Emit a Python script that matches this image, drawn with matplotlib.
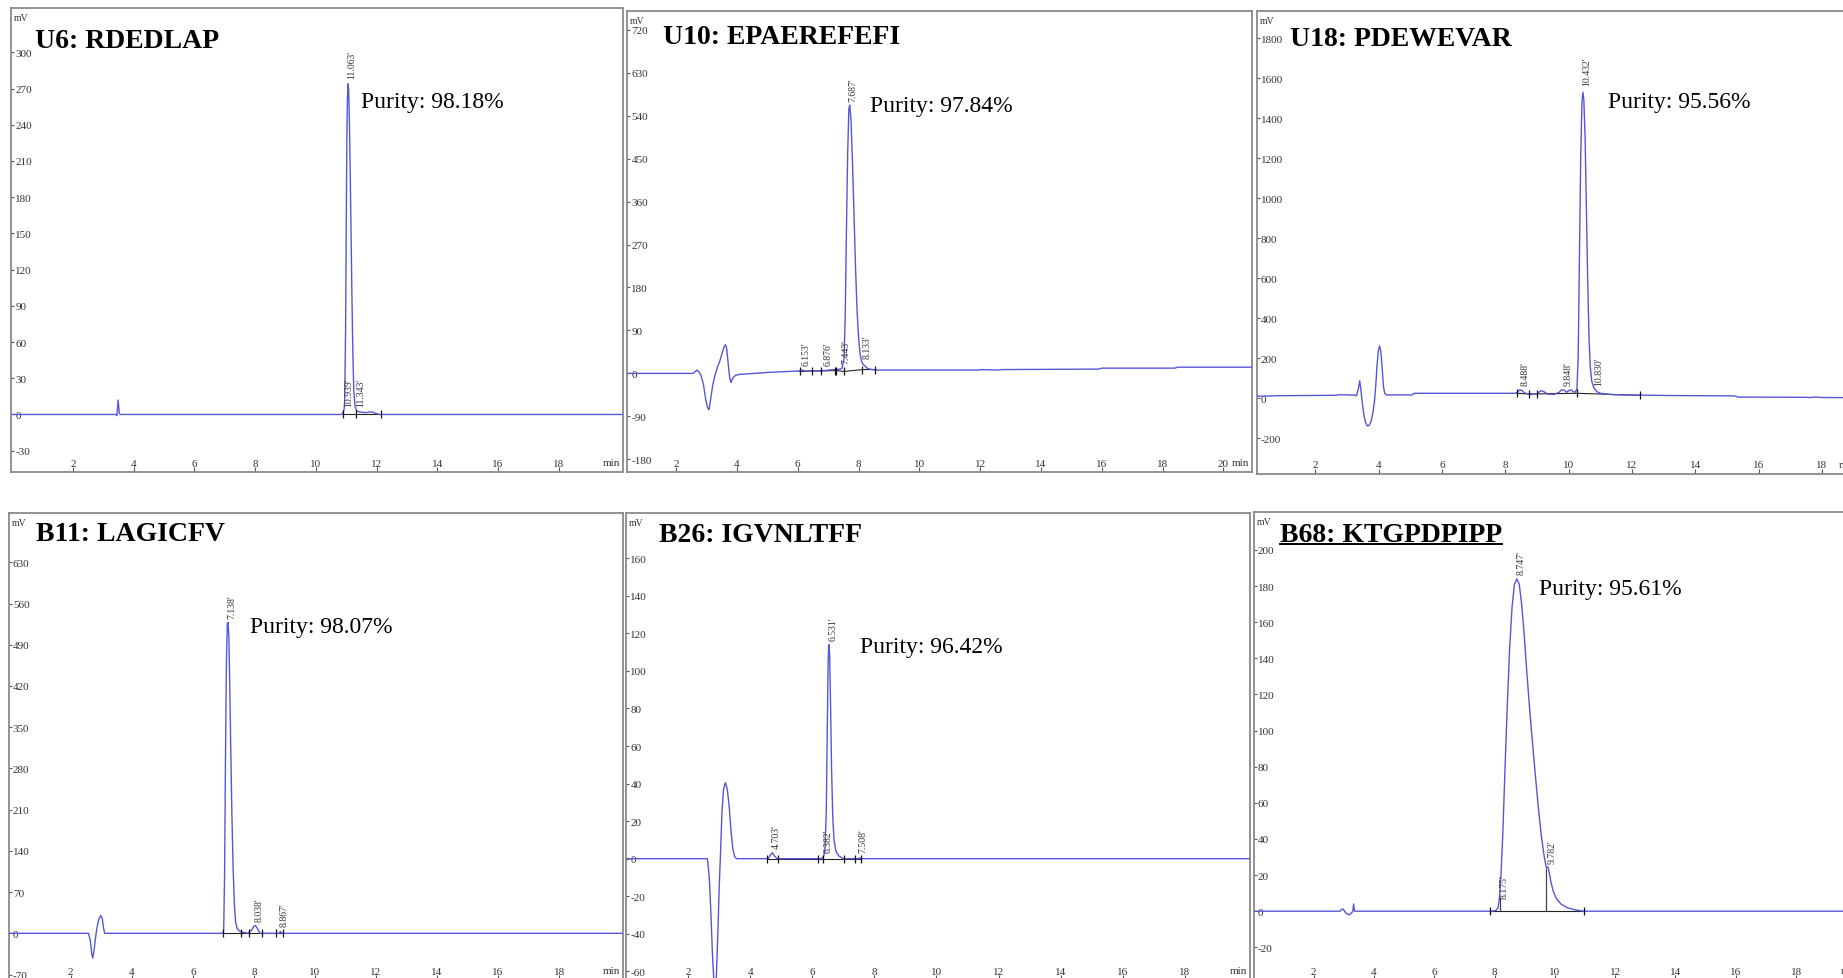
import matplotlib
matplotlib.use("Agg")
import matplotlib.pyplot as plt
from matplotlib.lines import Line2D

plt.rcParams['font.family'] = ['Liberation Serif', 'DejaVu Serif']
plt.rcParams['axes.unicode_minus'] = False

# ---------------- data ----------------
# U6: RDEDLAP
u6_t = [0.0, 3.42, 3.45, 3.49, 3.53, 3.56, 10.86, 10.90, 10.93, 10.95, 10.98, 11.00, 11.02,
        11.04, 11.06, 11.08, 11.10, 11.13, 11.16, 11.19, 11.22, 11.25, 11.29, 11.34, 11.45,
        11.65, 11.75, 11.85, 11.95, 12.10, 20.12]
u6_mv = [0, 0, -1, 12, 1, 0, 0, 2, 4, 12, 70, 150, 225, 262, 274, 270, 250, 205, 150, 95,
         50, 20, 7, 3, 2, 1.5, 2, 2.2, 1, 0, 0]
u6_peaks = ["10.939", "11.063", "11.343"]
u6_peak_y = [6, 278, 6]
u6_events = [10.90, 11.31, 12.15]
u6_event_y = [0, 0, 0]
u6_yticks = [-30, 0, 30, 60, 90, 120, 150, 180, 210, 240, 270, 300]

# U10: EPAEREFEFI
u10_t = [0.39, 2.55, 2.62, 2.68, 2.75, 2.82, 2.90, 2.97, 3.03, 3.08, 3.13, 3.20, 3.27, 3.35,
         3.43, 3.50, 3.57, 3.62, 3.66, 3.71, 3.76, 3.80, 3.86, 3.95, 4.10, 5.00, 6.05, 6.15,
         6.25, 6.90, 7.00, 7.30, 7.45, 7.52, 7.56, 7.60, 7.64, 7.68, 7.71, 7.75, 7.80, 7.85,
         7.90, 7.95, 8.00, 8.05, 8.10, 8.16, 8.22, 8.30, 8.45, 8.60, 10.0, 11.9, 12.05, 12.6,
         12.7, 15.9, 16.0, 18.4, 18.5, 20.94]
u10_mv = [0, 0, 3, 7, 3, -5, -25, -55, -72, -76, -55, -25, -5, 12, 25, 40, 55, 60, 52, 20,
          -10, -19, -10, -4, -2, 2, 5, 7, 5, 6, 7, 8, 10, 30, 120, 300, 460, 555, 562, 530,
          440, 330, 220, 130, 75, 40, 25, 18, 15, 10, 8, 7, 7, 7, 8, 7, 8, 9, 11, 11, 13, 13]
u10_peaks = ["6.153", "6.876", "7.443", "7.687", "8.133"]
u10_peak_y = [16, 16, 20, 568, 30]
u10_events = [6.06, 6.46, 6.76, 7.21, 7.27, 7.51, 8.12, 8.55]
u10_event_y = [4, 5, 5, 6, 6, 4, 8, 8]
u10_yticks = [-180, -90, 0, 90, 180, 270, 360, 450, 540, 630, 720]

# U18: PDEWEVAR
u18_t = [0.15, 0.8, 2.65, 2.75, 3.25, 3.30, 3.36, 3.40, 3.44, 3.48, 3.53, 3.58, 3.64, 3.70,
         3.76, 3.82, 3.87, 3.91, 3.95, 3.99, 4.03, 4.07, 4.11, 4.15, 4.19, 4.25, 5.05, 5.12,
         8.30, 8.38, 8.45, 8.52, 8.60, 8.70, 8.85, 9.00, 9.12, 9.22, 9.35, 9.55, 9.70, 9.78,
         9.86, 9.93, 10.00, 10.08, 10.14, 10.20, 10.26, 10.30, 10.34, 10.38, 10.42, 10.45,
         10.48, 10.52, 10.56, 10.60, 10.64, 10.68, 10.73, 10.80, 10.90, 11.0, 11.4, 13.1,
         15.25, 15.35, 17.5, 17.6, 17.8, 18.0, 19.2]
u18_mv = [10, 13, 15, 18, 16, 13, 50, 88, 40, -20, -80, -120, -138, -135, -115, -70, -10, 70,
          170, 240, 262, 230, 150, 60, 25, 17, 17, 25, 25, 30, 42, 40, 28, 22, 20, 22, 38, 33,
          20, 20, 30, 43, 40, 30, 38, 42, 33, 30, 45, 200, 700, 1200, 1480, 1530, 1490, 1300,
          950, 600, 320, 160, 85, 50, 32, 25, 18, 14, 12, 6, 5, 4, 6, 4, 3]
u18_peaks = ["8.488", "9.848", "10.432", "10.830"]
u18_peak_y = [63, 63, 1560, 63]
u18_events = [8.37, 8.74, 9.01, 10.27, 12.26]
u18_event_y = [25, 22, 22, 25, 15]
u18_yticks = [-200, 0, 200, 400, 600, 800, 1000, 1200, 1400, 1600, 1800]

# B11: LAGICFV
b11_t = [0.0, 2.58, 2.64, 2.69, 2.72, 2.76, 2.81, 2.86, 2.92, 2.98, 3.03, 3.07, 3.11, 6.98,
         7.01, 7.04, 7.07, 7.10, 7.13, 7.15, 7.18, 7.21, 7.24, 7.28, 7.32, 7.36, 7.40, 7.45,
         7.52, 7.62, 7.80, 7.92, 8.00, 8.05, 8.12, 8.20, 8.82, 8.87, 8.92, 20.1]
b11_mv = [0, 0, -12, -35, -42, -30, -8, 10, 24, 30, 26, 10, 0, 0, 5, 100, 300, 460, 525, 528,
          505, 420, 320, 200, 110, 50, 20, 8, 4, 2, 0, 5, 12, 13, 8, 0, 0, 3, 0, 0]
b11_peaks = ["7.138", "8.038", "8.867"]
b11_peak_y = [534, 20, 10]
b11_events = [6.98, 7.58, 7.83, 8.28, 8.74, 8.96]
b11_event_y = [0, 0, 0, 0, 0, 0]
b11_yticks = [-70, 0, 70, 140, 210, 280, 350, 420, 490, 560, 630]

# B26: IGVNLTFF
b26_t = [0.0, 2.62, 2.68, 2.73, 2.78, 2.83, 2.87, 2.91, 2.96, 3.00, 3.04, 3.09, 3.14, 3.20,
         3.26, 3.32, 3.38, 3.44, 3.50, 3.56, 4.58, 4.65, 4.71, 4.78, 4.87, 6.30, 6.37, 6.41,
         6.45, 6.48, 6.51, 6.53, 6.56, 6.59, 6.62, 6.66, 6.70, 6.76, 6.85, 7.00, 7.48, 7.52,
         7.56, 20.1]
b26_mv = [0, 0, -10, -28, -50, -66, -72, -62, -38, -15, 2, 25, 37, 40.5, 37, 28, 15, 5, 1, 0,
          0, 2, 3.2, 1.5, 0, 0, 1.5, 6, 25, 65, 105, 114, 108, 80, 48, 22, 10, 4, 1.5, 0, 0,
          0.5, 0, 0]
b26_peaks = ["4.703", "6.382", "6.531", "7.508"]
b26_peak_y = [5, 3, 116, 3]
b26_events = [4.55, 4.91, 6.18, 6.34, 7.01, 7.39, 7.57]
b26_event_y = [0, 0, 0, 0, 0, 0, 0]
b26_yticks = [-60, -40, -20, 0, 20, 40, 60, 80, 100, 120, 140, 160]

# B68: KTGPDPIPP
b68_t = [0.02, 2.88, 2.93, 2.98, 3.03, 3.10, 3.18, 3.26, 3.30, 3.33, 3.36, 7.92, 8.05, 8.12,
         8.17, 8.22, 8.28, 8.35, 8.42, 8.50, 8.58, 8.66, 8.74, 8.82, 8.90, 8.98, 9.06, 9.15,
         9.25, 9.35, 9.45, 9.55, 9.65, 9.72, 9.77, 9.81, 9.87, 9.95, 10.05, 10.20, 10.40,
         10.65, 10.95, 20.2]
b68_mv = [0, 0, 1, 1.2, 0, -1.5, -2, -1, 0, 4, 0, 0, 0.5, 2, 8, 22, 45, 80, 112, 145, 168,
          181, 184, 181, 170, 154, 135, 115, 95, 76, 58, 42, 30, 24, 24.5, 22, 16, 11, 7, 4,
          2, 0.8, 0, 0]
b68_peaks = ["8.175", "8.747", "9.782"]
b68_peak_y = [7, 186, 26]
b68_events = [7.84, 10.97]
b68_event_y = [0, 0]
b68_drops = [8.17, 9.72]
b68_drop_top = [8, 24]
b68_yticks = [-20, 0, 20, 40, 60, 80, 100, 120, 140, 160, 180, 200]

xticks_a = [2, 4, 6, 8, 10, 12, 14, 16, 18]
xticks_b = [2, 4, 6, 8, 10, 12, 14, 16, 18, 20]

titles = ["U6: RDEDLAP", "U10: EPAEREFEFI", "U18: PDEWEVAR",
          "B11: LAGICFV", "B26: IGVNLTFF", "B68: KTGPDPIPP"]
purities = ["Purity: 98.18%", "Purity: 97.84%", "Purity: 95.56%",
            "Purity: 98.07%", "Purity: 96.42%", "Purity: 95.61%"]

# ---------------- layout / drawing ----------------
W, H = 1843, 979
fig = plt.figure(figsize=(W / 100, H / 100), dpi=100)

TRACE = '#5656da'
FRAME = '#8a8a8a'
TXT = '#333333'

panels = [
    dict(box=(11.2, 9.3, 623.2, 473.3), xlim=(-0.03, 20.12), ylim=(-47.9, 336.5),
         t=u6_t, mv=u6_mv, pk=u6_peaks, pky=u6_peak_y, ev=u6_events, evy=u6_event_y,
         yt=u6_yticks, xt=xticks_a, toff=(24, 20), ppos=(0.571, 0.788)),
    dict(box=(627.3, 11.7, 1251.9, 473.3), xlim=(0.39, 20.94), ylim=(-207.2, 759.8),
         t=u10_t, mv=u10_mv, pk=u10_peaks, pky=u10_peak_y, ev=u10_events, evy=u10_event_y,
         yt=u10_yticks, xt=xticks_b, toff=(35.6, 13.3), ppos=(0.388, 0.783)),
    dict(box=(1256.8, 11.7, 1859.0, 474.5), xlim=(0.15, 19.17), ylim=(-376, 1938),
         t=u18_t, mv=u18_mv, pk=u18_peaks, pky=u18_peak_y, ev=u18_events, evy=u18_event_y,
         yt=u18_yticks, xt=xticks_a, toff=(33, 15), ppos=(0.584, 0.791)),
    dict(box=(8.8, 514.0, 623.2, 981.0), xlim=(-0.03, 20.1), ylim=(-79.3, 713.7),
         t=b11_t, mv=b11_mv, pk=b11_peaks, pky=b11_peak_y, ev=b11_events, evy=b11_event_y,
         yt=b11_yticks, xt=xticks_a, toff=(27, 7.7), ppos=(0.393, 0.746)),
    dict(box=(626.1, 514.0, 1249.9, 981.0), xlim=(0.0, 20.1), ylim=(-64.6, 184.1),
         t=b26_t, mv=b26_mv, pk=b26_peaks, pky=b26_peak_y, ev=b26_events, evy=b26_event_y,
         yt=b26_yticks, xt=xticks_a, toff=(32.7, 8.7), ppos=(0.375, 0.702)),
    dict(box=(1253.8, 512.7, 1861.0, 981.0), xlim=(0.02, 20.15), ylim=(-38.1, 221.2),
         t=b68_t, mv=b68_mv, pk=b68_peaks, pky=b68_peak_y, ev=b68_events, evy=b68_event_y,
         yt=b68_yticks, xt=xticks_a, toff=(26.5, 10), ppos=(0.469, 0.824)),
]


def add_axes_px(l, t, r, b):
    return fig.add_axes([l / W, 1 - b / H, (r - l) / W, (b - t) / H])


title_artists = []
for i, p in enumerate(panels):
    ax = add_axes_px(*p['box'])
    ax.set_xlim(*p['xlim'])
    ax.set_ylim(*p['ylim'])

    # integration baseline and event markers
    ax.plot(p['ev'], p['evy'], color='#222222', lw=0.8, zorder=2)
    ax.plot(p['ev'], p['evy'], ls='none', marker='|', ms=6, mew=0.9,
            color='#111111', zorder=4)
    if i == 5:
        ax.vlines(b68_drops, 0, b68_drop_top, color='#444444', lw=0.9, zorder=2)

    # chromatogram trace
    ax.plot(p['t'], p['mv'], color=TRACE, lw=1.0, zorder=3)

    # peak retention-time labels
    for lab, yv in zip(p['pk'], p['pky']):
        ax.annotate(lab + "'", xy=(float(lab), yv), xytext=(4, 1),
                    textcoords='offset pixels', rotation=90, ha='center',
                    va='bottom', fontsize=7, color=TXT, zorder=5)

    # ticks
    ax.set_xticks(p['xt'])
    ax.set_xticklabels([str(v) for v in p['xt']])
    ax.set_yticks(p['yt'])
    ax.set_yticklabels([str(v) for v in p['yt']])
    ax.tick_params(axis='both', direction='in', length=3.5, width=0.8,
                   color='#555555', labelsize=8, labelcolor=TXT)
    ax.tick_params(axis='y', pad=-3, length=2.5)
    ax.tick_params(axis='x', pad=-3.0)
    for lb in ax.get_yticklabels():
        lb.set_ha('left')
    for lb in ax.get_xticklabels():
        lb.set_va('bottom')

    for s in ax.spines.values():
        s.set_color(FRAME)
        s.set_linewidth(1.3)

    ax.annotate('mV', xy=(0, 1), xycoords='axes fraction', xytext=(3, -5),
                textcoords='offset pixels', ha='left', va='top', fontsize=7, color=TXT)
    ax.annotate('min', xy=(1, 0), xycoords='axes fraction', xytext=(-3, 5),
                textcoords='offset pixels', ha='right', va='bottom', fontsize=8, color=TXT)

    tt = ax.annotate(titles[i], xy=(0, 1), xycoords='axes fraction',
                     xytext=(p['toff'][0], -p['toff'][1]), textcoords='offset pixels',
                     ha='left', va='top', fontsize=20, fontweight='bold', color='black')
    title_artists.append(tt)

    ax.text(p['ppos'][0], p['ppos'][1], purities[i], transform=ax.transAxes,
            ha='left', va='baseline', fontsize=17, color='black')

# underline for the B68 title
fig.canvas.draw()
bb = title_artists[5].get_window_extent()
y_ul = bb.y0 + 3.0
fig.add_artist(Line2D([bb.x0 / W, bb.x1 / W], [y_ul / H, y_ul / H],
                      transform=fig.transFigure, color='black', lw=1.4))

fig.savefig('out.png', dpi=100)
